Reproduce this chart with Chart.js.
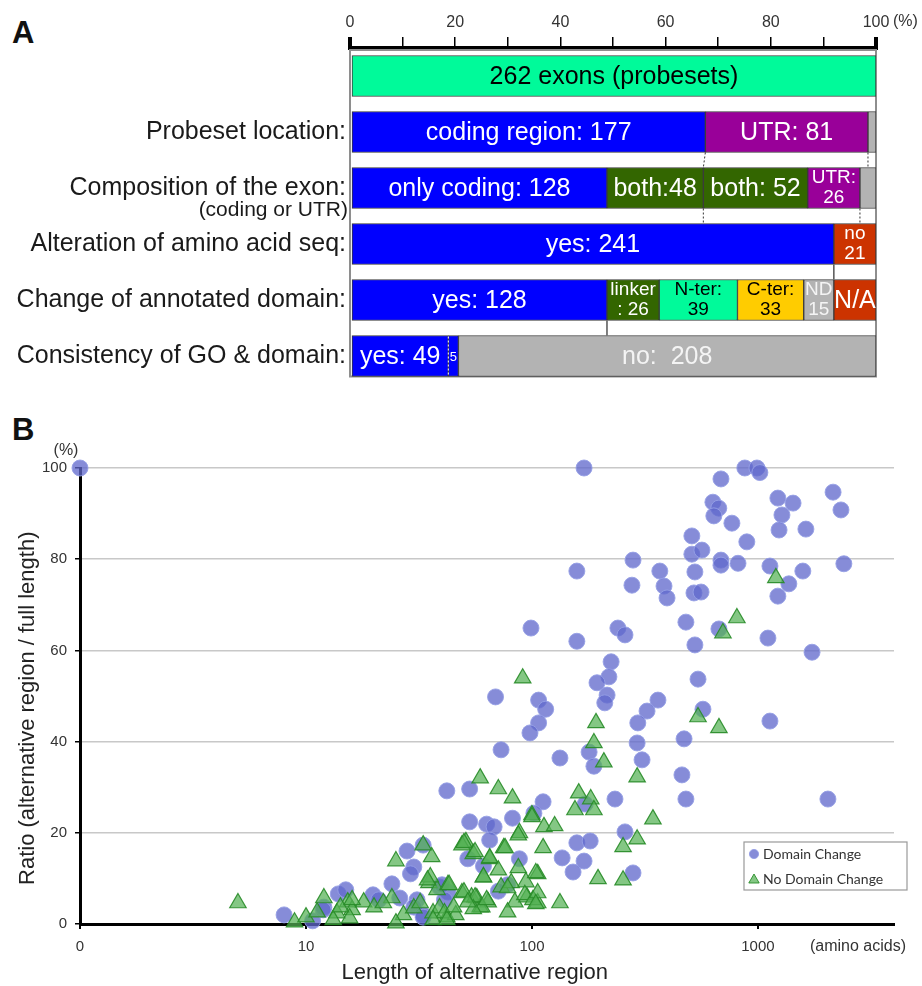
<!DOCTYPE html>
<html>
<head>
<meta charset="utf-8">
<script src="https://cdn.jsdelivr.net/npm/chart.js@4.4.1/dist/chart.umd.min.js"></script>
<style>
  body { margin: 0; background: #fff; width: 922px; height: 986px; position: relative; overflow: hidden; font-family: "Liberation Sans", Arial, sans-serif; }
  .letter { position: absolute; left: 12px; font-weight: bold; font-size: 31px; line-height: 31px; color: #111; }
  #chartA { position: absolute; left: 0; top: 0; }
  #chartB { position: absolute; left: 0; top: 390px; }
</style>
</head>
<body>
<div class="letter" style="top:17px">A</div>
<div class="letter" style="top:414px">B</div>
<canvas id="chartA" width="922" height="390"></canvas>
<canvas id="chartB" width="922" height="596"></canvas>
<script>
// ---- panel A data (counts out of 262 exons) ----
const totalExons = 262;
const rowLabels = ['', 'Probeset location:', 'Composition of the exon:', 'Alteration of amino acid seq:', 'Change of annotated domain:', 'Consistency of GO & domain:'];
const rowSubLabels = ['', '', '(coding or UTR)', '', '', ''];
const exonCounts = [262];
const locationCounts = [177, 81, 4];
const compositionCounts = [128, 48, 52, 26, 8];
const alterationCounts = [241, 21];
const domainCounts = [128, 26, 39, 33, 15, 21];
const goCounts = [49, 5, 208];

const exonText = ['262 exons (probesets)'];
const locationText = ['coding region: 177', 'UTR: 81', ''];
const compositionText = ['only coding: 128', 'both:48', 'both: 52', ['UTR:', '26'], ''];
const alterationText = ['yes: 241', ['no', '21']];
const domainText = ['yes: 128', ['linker', ': 26'], ['N-ter:', '39'], ['C-ter:', '33'], ['ND', '15'], 'N/A'];
const goText = ['yes: 49', '5', 'no:  208'];

const percentTicks = [0, 10, 20, 30, 40, 50, 60, 70, 80, 90, 100];
// [gap below row, count at top, count at bottom, dotted?]
const gapLinks = [[1, 177, 176, true], [1, 258, 258, true], [2, 176, 176, true], [2, 254, 254, true], [3, 241, 241, false], [4, 128, 128, false]];

// ---- panel B data: [length (aa), ratio %]; length 1 is the "0" column ----
const domainChange = [
  [1, 100], [170, 100], [875, 100], [990, 100], [1020, 99], [686, 97.6], [2150, 94.7], [1225, 93.4], [1430, 92.3],
  [632, 92.5], [671, 91.2], [2330, 90.8], [1277, 89.7], [638, 89.5], [767, 87.9], [1240, 86.4], [1630, 86.6],
  [893, 83.8], [510, 85.1], [510, 81.1], [565, 82], [280, 79.8], [686, 79.8], [686, 78.7], [816, 79.1], [1130, 78.5],
  [2400, 79], [158, 77.4], [368, 77.4], [526, 77.2], [1580, 77.4], [277, 74.3], [384, 74.1], [1370, 74.6], [396, 71.5],
  [521, 72.6], [560, 72.8], [1225, 71.9], [99, 64.9], [240, 64.9], [258, 63.4], [158, 62], [480, 66.2], [672, 64.7],
  [1107, 62.7], [526, 61.2], [1735, 59.6], [543, 53.7], [224, 57.5], [219, 54.2], [194, 52.9], [215, 50.2], [69, 49.8],
  [107, 49.1], [361, 49.1], [115, 47.1], [210, 48.5], [323, 46.7], [571, 47.1], [107, 44.1], [98, 41.9], [294, 44.1],
  [292, 39.7], [307, 36], [471, 40.6], [461, 32.7], [480, 27.4], [1130, 44.5], [2040, 27.4], [73, 38.2], [133, 36.4],
  [179, 37.7], [188, 34.6], [233, 27.4], [172, 26.3], [112, 26.8], [102, 24.3], [82, 23.2], [53, 29.6], [42, 29.2],
  [53, 22.4], [63, 21.9], [68, 21.3], [65, 18.4], [258, 20.2], [158, 17.8], [181, 18.2], [52, 14.3], [88, 14.3],
  [61, 12.7], [136, 14.5], [170, 13.8], [152, 11.4], [280, 11.2], [78, 8.6], [71, 7.2], [28, 16], [33, 17.3], [30, 12.5],
  [29, 11], [24, 8.8], [13.9, 6.6], [15, 7.5], [19.8, 6.4], [21, 5.3], [26, 5.7], [31, 5.3], [39, 8.1], [42.5, 7],
  [8, 2], [10.7, 0.7], [12, 3.7], [30, 3.7], [33, 2], [41, 5.3], [11.9, 3.1], [33, 1.5], [40, 8.6]
];
const noDomainChange = [
  [5, 4.6], [1200, 75.9], [807, 67.1], [700, 63.8], [91, 53.9], [543, 45.4], [672, 43], [192, 44.1], [188, 39.7],
  [208, 35.5], [292, 32.2], [59, 32], [71, 29.6], [82, 27.6], [161, 28.7], [182, 27.4], [155, 25], [188, 25], [343, 23],
  [100, 23.9], [113, 21.3], [126, 21.5], [88, 20], [292, 18.6], [253, 16.9], [51, 18], [75, 16.7], [112, 16.7],
  [55, 15.4], [65, 14.3], [87, 12.3], [71, 11.8], [61, 10.3], [106, 11], [94, 9.2], [196, 9.9], [253, 9.6], [49, 6.8],
  [54, 5.9], [57, 5.7], [64, 4.8], [59, 3.7], [84, 4.8], [95, 5.9], [106, 4.6], [133, 4.6], [78, 2.6], [73, 8.1], [81, 9],
  [25, 13.8], [36, 14.7], [33, 17.3], [12, 5.7], [15.3, 4.8], [16, 3.1], [18, 4.8], [20, 3.7], [24, 5.7], [27, 2],
  [25, 0.2], [8.9, 0.4], [10, 1.5], [11.2, 2.6], [13.7, 2.4], [15.6, 1.3], [13.2, 0.9], [35, 9], [38, 7.5], [42.5, 8.6],
  [35.5, 10.3], [30, 3.5], [36.5, 2.4], [42, 1.5], [49, 17.3], [14.2, 3.7], [16, 5.3], [22, 4.6], [32, 4.6], [34.5, 9.6],
  [39, 3.5], [41, 2.4], [43, 8.6], [46, 2], [50, 7], [56, 5.9], [60, 3.7], [55, 3.3], [63, 5.3], [50, 17.8], [56, 15.8],
  [61, 10.3], [65, 14.5], [76, 16.7], [87, 19.5], [100, 23.5], [78, 7.9], [93, 6.4], [101, 5.3], [104, 11.2], [106, 6.8],
  [104, 4.4], [36.5, 0.9], [42, 0.9], [45, 3.7], [52, 4.8]
];
const lengthTicks = [1, 10, 100, 1000];
const ratioTicks = [0, 20, 40, 60, 80, 100];

// ---- styles ----
Chart.defaults.font.family = '"Liberation Sans", Arial, sans-serif';
const MINT = '#00FA9A', BLUE = '#0000FF', PURPLE = '#990099', GRAY = '#B3B3B3', OLIVE = '#336600', RED = '#CC3300', GOLD = '#FFCC00';
const segmentFill = [
  [MINT],
  [BLUE, PURPLE, GRAY],
  [BLUE, OLIVE, OLIVE, PURPLE, GRAY],
  [BLUE, RED],
  [BLUE, OLIVE, MINT, GOLD, GRAY, RED],
  [BLUE, BLUE, GRAY]
];
const segmentInk = [
  ['#000'],
  ['#fff', '#fff', '#fff'],
  ['#fff', '#fff', '#fff', '#fff', '#fff'],
  ['#fff', '#fff'],
  ['#fff', '#fff', '#000', '#000', '#f4f4f4', '#fff'],
  ['#fff', '#fff', '#f4f4f4']
];
const BAR_THICK = 41;

const segmentCounts = [exonCounts, locationCounts, compositionCounts, alterationCounts, domainCounts, goCounts];
const segmentText = [exonText, locationText, compositionText, alterationText, domainText, goText];
const pct = c => c / totalExons * 100;
const slotCount = Math.max(...segmentCounts.map(r => r.length));

const barDatasets = [];
for (let k = 0; k < slotCount; k++) {
  barDatasets.push({
    data: segmentCounts.map(r => (r[k] == null ? null : pct(r[k]))),
    backgroundColor: segmentFill.map(r => r[k] || 'rgba(0,0,0,0)'),
    borderColor: '#3a3a3a',
    borderWidth: 1,
    borderSkipped: false,
    barThickness: BAR_THICK
  });
}

const panelAExtras = {
  id: 'panelAExtras',
  beforeDatasetsDraw(chart) {
    const { ctx, chartArea: a, scales: { y } } = chart;
    const bottom = y.getPixelForValue(rowLabels.length - 1) + BAR_THICK / 2;
    ctx.save();
    ctx.strokeStyle = '#8e8e8e';
    ctx.lineWidth = 2;
    ctx.strokeRect(a.left, a.top + 2, a.right - a.left, bottom - a.top - 2);
    ctx.restore();
  },
  afterDatasetsDraw(chart) {
    const { ctx, chartArea: a, scales: { x, y } } = chart;
    ctx.save();
    // lines across the gaps
    gapLinks.forEach(([row, c0, c1, dotted]) => {
      const y0 = y.getPixelForValue(row) + BAR_THICK / 2;
      const y1 = y.getPixelForValue(row + 1) - BAR_THICK / 2;
      ctx.beginPath();
      ctx.setLineDash(dotted ? [2, 2] : []);
      ctx.strokeStyle = dotted ? '#333' : '#555';
      ctx.lineWidth = dotted ? 1 : 1.5;
      ctx.moveTo(x.getPixelForValue(pct(c0)), y0);
      ctx.lineTo(x.getPixelForValue(pct(c1)), y1);
      ctx.stroke();
    });
    // dotted divider between "yes: 49" and "5"
    const gy = y.getPixelForValue(5);
    const gx = x.getPixelForValue(pct(goCounts[0]));
    ctx.beginPath();
    ctx.setLineDash([2, 2]);
    ctx.strokeStyle = '#dde';
    ctx.lineWidth = 1.2;
    ctx.moveTo(gx, gy - BAR_THICK / 2 + 1);
    ctx.lineTo(gx, gy + BAR_THICK / 2 - 1);
    ctx.stroke();
    ctx.setLineDash([]);

    // segment labels
    ctx.textAlign = 'center';
    ctx.textBaseline = 'middle';
    chart.data.datasets.forEach((ds, di) => {
      chart.getDatasetMeta(di).data.forEach((bar, ri) => {
        const t = segmentText[ri][di];
        if (!t) return;
        const p = bar.getCenterPoint();
        ctx.fillStyle = segmentInk[ri][di];
        if (Array.isArray(t)) {
          ctx.font = '19px "Liberation Sans", Arial, sans-serif';
          ctx.fillText(t[0], p.x, p.y - 10);
          ctx.fillText(t[1], p.x, p.y + 10);
        } else {
          ctx.font = (t.length < 3 ? 13 : 25) + 'px "Liberation Sans", Arial, sans-serif';
          ctx.fillText(t, p.x, p.y + 1);
        }
      });
    });

    // row labels
    ctx.textAlign = 'right';
    ctx.fillStyle = '#1a1a1a';
    rowLabels.forEach((lab, i) => {
      const cy = y.getPixelForValue(i);
      ctx.font = '25px "Liberation Sans", Arial, sans-serif';
      ctx.fillText(lab, a.left - 4, cy);
      if (rowSubLabels[i]) {
        ctx.font = '21px "Liberation Sans", Arial, sans-serif';
        ctx.fillText(rowSubLabels[i], a.left - 2, cy + 22);
      }
    });

    // unit next to top axis
    ctx.textAlign = 'left';
    ctx.fillStyle = '#333';
    ctx.font = '16px "Liberation Sans", Arial, sans-serif';
    ctx.fillText('(%)', a.right + 17, 22);
    ctx.restore();
  }
};

new Chart(document.getElementById('chartA'), {
  type: 'bar',
  data: { labels: rowLabels, datasets: barDatasets },
  options: {
    indexAxis: 'y',
    responsive: false,
    animation: false,
    layout: { padding: { left: 350, right: 46, top: 0, bottom: 6 } },
    plugins: { legend: { display: false }, tooltip: { enabled: false } },
    scales: {
      x: {
        position: 'top',
        stacked: true,
        min: 0,
        max: 100,
        afterFit: s => { s.height = 48; },
        afterBuildTicks: s => { s.ticks = percentTicks.map(v => ({ value: v })); },
        ticks: {
          callback: v => (v % 20 === 0 ? String(v) : ''),
          font: { size: 16 },
          color: '#333',
          padding: 5,
          maxRotation: 0,
          autoSkip: false
        },
        grid: {
          drawOnChartArea: false,
          tickLength: 11,
          tickColor: '#000',
          lineWidth: c => (c.tick && (c.tick.value === 0 || c.tick.value === 100) ? 4 : 1.5)
        },
        border: { color: '#000', width: 4 }
      },
      y: { stacked: true, display: false }
    }
  },
  plugins: [panelAExtras]
});

// ---- panel B ----
const panelBExtras = {
  id: 'panelBExtras',
  afterDraw(chart) {
    const { ctx, chartArea: a, scales: { x } } = chart;
    ctx.save();
    ctx.fillStyle = '#333';
    ctx.textBaseline = 'middle';
    ctx.font = '16px "Liberation Sans", Arial, sans-serif';
    ctx.textAlign = 'center';
    ctx.fillText('(%)', a.left - 14, a.top - 17);
    ctx.textAlign = 'left';
    ctx.fillText('(amino acids)', x.getPixelForValue(1000) + 52, a.bottom + 23);

    // legend box
    const lx = a.right - 150, ly = a.bottom - 82, lw = 163, lh = 48;
    ctx.fillStyle = '#fff';
    ctx.fillRect(lx, ly, lw, lh);
    ctx.strokeStyle = '#999';
    ctx.lineWidth = 1.2;
    ctx.strokeRect(lx, ly, lw, lh);
    ctx.font = '14px Lato, "Open Sans", sans-serif';
    chart.data.datasets.forEach((ds, i) => {
      const cy = ly + 12 + i * 25;
      ctx.fillStyle = ds.backgroundColor;
      ctx.strokeStyle = ds.borderColor;
      ctx.lineWidth = 1;
      Chart.helpers.drawPoint(ctx, { pointStyle: ds.pointStyle, radius: i ? 6 : 4.6, rotation: 0, borderWidth: 1 }, lx + 10, cy + (i ? 1 : 0));
      ctx.fillStyle = '#333';
      ctx.fillText(ds.label, lx + 19, cy);
    });
    ctx.restore();
  }
};

new Chart(document.getElementById('chartB'), {
  type: 'scatter',
  data: {
    datasets: [
      {
        label: 'Domain Change',
        data: domainChange.map(([x, y]) => ({ x, y })),
        pointStyle: 'circle',
        pointRadius: 8,
        backgroundColor: 'rgba(96, 104, 204, 0.76)',
        borderColor: 'rgba(150, 160, 230, 0.9)',
        borderWidth: 1,
        clip: false,
        order: 1
      },
      {
        label: 'No Domain Change',
        data: noDomainChange.map(([x, y]) => ({ x, y })),
        pointStyle: 'triangle',
        pointRadius: 9.5,
        backgroundColor: 'rgba(84, 178, 84, 0.72)',
        borderColor: 'rgba(40, 140, 40, 0.9)',
        borderWidth: 1.2,
        clip: false,
        order: 0
      }
    ]
  },
  options: {
    responsive: false,
    animation: false,
    layout: { padding: { left: 0, right: 28, top: 78, bottom: 0 } },
    plugins: { legend: { display: false }, tooltip: { enabled: false } },
    scales: {
      x: {
        type: 'logarithmic',
        min: 1,
        max: 4000,
        afterFit: s => { s.height = 62; },
        afterBuildTicks: s => { s.ticks = lengthTicks.map(v => ({ value: v })); },
        ticks: {
          callback: v => (v === 1 ? '0' : String(v)),
          font: { size: 15 },
          color: '#333',
          padding: 9,
          maxRotation: 0,
          autoSkip: false
        },
        grid: { drawOnChartArea: false, tickLength: 5, tickColor: '#000', lineWidth: 2 },
        border: { color: '#000', width: 3 },
        title: { display: true, text: 'Length of alternative region    ', font: { size: 22 }, color: '#222', padding: 0 }
      },
      y: {
        min: 0,
        max: 100,
        afterFit: s => { s.width = 80; },
        afterBuildTicks: s => { s.ticks = ratioTicks.map(v => ({ value: v })); },
        ticks: { font: { size: 15 }, color: '#333', padding: 8 },
        grid: {
          color: c => (c.tick && c.tick.value === 0 ? 'rgba(0,0,0,0)' : '#c8c8c8'),
          tickColor: '#000',
          tickLength: 5,
          lineWidth: 1.5
        },
        border: { color: '#000', width: 3 },
        title: { display: true, text: 'Ratio (alternative region / full length)    ', font: { size: 22 }, color: '#222', padding: { top: 15 } }
      }
    }
  },
  plugins: [panelBExtras]
});
</script>
</body>
</html>
